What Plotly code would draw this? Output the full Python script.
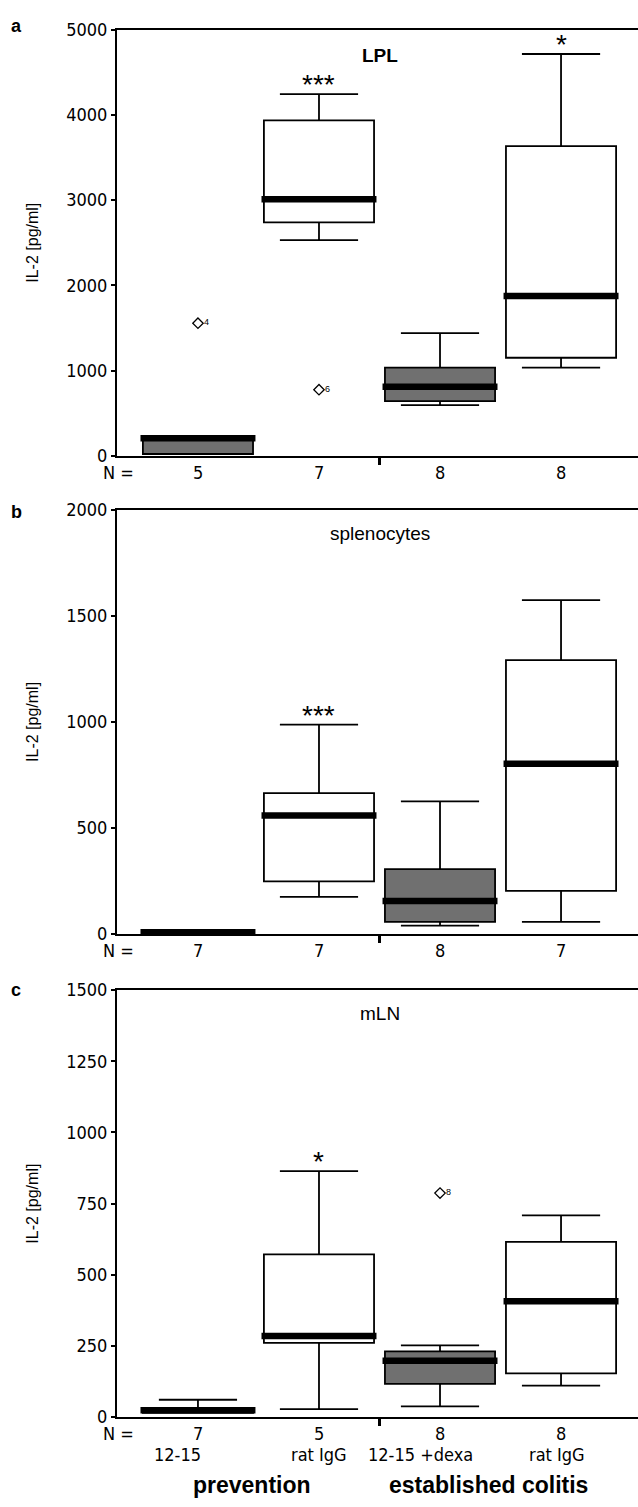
import plotly.graph_objects as go

W, H = 638, 1507

# ---------------- data ----------------
groups = ["12-15", "rat IgG", "12-15 +dexa", "rat IgG"]
fills = ["#707070", "#ffffff", "#707070", "#ffffff"]

# panel a: LPL
n_a = [5, 7, 8, 8]
lo_a = [20, 2530, 595, 1035]
q1_a = [20, 2740, 640, 1150]
med_a = [205, 3010, 810, 1875]
q3_a = [212, 3935, 1035, 3635]
hi_a = [212, 4245, 1440, 4715]
out_a_x = [0, 1]
out_a_y = [1555, 775]
out_a_lbl = ["4", "6"]
sig_a = ["", "***", "", "*"]

# panel b: splenocytes
n_b = [7, 7, 8, 7]
lo_b = [0, 175, 39, 57]
q1_b = [0, 248, 57, 203]
med_b = [8, 559, 155, 803]
q3_b = [15, 664, 306, 1292]
hi_b = [15, 987, 625, 1575]
out_b_x = []
out_b_y = []
out_b_lbl = []
sig_b = ["", "***", "", ""]

# panel c: mLN
n_c = [7, 5, 8, 8]
lo_c = [15, 28, 38, 111]
q1_c = [15, 261, 117, 154]
med_c = [24, 285, 198, 407]
q3_c = [32, 572, 231, 616]
hi_c = [61, 864, 252, 709]
out_c_x = [2]
out_c_y = [787]
out_c_lbl = ["8"]
sig_c = ["", "*", "", ""]

titles = ["LPL", "splenocytes", "mLN"]
letters = ["a", "b", "c"]
yticks = [[0, 1000, 2000, 3000, 4000, 5000],
          [0, 500, 1000, 1500, 2000],
          [0, 250, 500, 750, 1000, 1250, 1500]]
group_names = ["prevention", "established colitis"]

# ---------------- layout geometry (pixels) ----------------
FONT = "Liberation Sans Narrow, DejaVu Sans Condensed, Liberation Sans, Arial"
BOLD = "Liberation Sans, Arial"
px = lambda x: x / W
py = lambda y: 1 - y / H

panels = [
    dict(top=19, bot=451, n=n_a, lo=lo_a, q1=q1_a, med=med_a, q3=q3_a, hi=hi_a,
         ox=out_a_x, oy=out_a_y, ol=out_a_lbl, sig=sig_a, title_y=45, title_bold=True),
    dict(top=506, bot=936, n=n_b, lo=lo_b, q1=q1_b, med=med_b, q3=q3_b, hi=hi_b,
         ox=out_b_x, oy=out_b_y, ol=out_b_lbl, sig=sig_b, title_y=530, title_bold=False),
    dict(top=993, bot=1426, n=n_c, lo=lo_c, q1=q1_c, med=med_c, q3=q3_c, hi=hi_c,
         ox=out_c_x, oy=out_c_y, ol=out_c_lbl, sig=sig_c, title_y=1017, title_bold=False),
]
letter_y = [15, 508, 993]
sub_shift = [-20, 0, -20, -4]

BOXW = 0.91
XR = [-0.669, 3.636]

fig = go.Figure()
annotations = []
layout = dict(width=W, height=H, margin=dict(l=0, r=0, t=0, b=0, pad=0),
              plot_bgcolor="white", paper_bgcolor="white",
              showlegend=False, boxmode="overlay", autosize=False)

for p_i, p in enumerate(panels):
    sfx = "" if p_i == 0 else str(p_i + 1)
    xa, ya = "x" + sfx, "y" + sfx
    for i in range(4):
        fig.add_trace(go.Box(
            x=[i], q1=[p["q1"][i]], median=[p["med"][i]], q3=[p["q3"][i]],
            lowerfence=[p["lo"][i]], upperfence=[p["hi"][i]],
            width=BOXW, whiskerwidth=0.71, fillcolor=fills[i],
            line=dict(color="black", width=1.8), boxpoints=False,
            hoverinfo="skip", xaxis=xa, yaxis=ya))
        # thick median bar
        fig.add_trace(go.Scatter(
            x=[i - BOXW / 2 - 0.02, i + BOXW / 2 + 0.02],
            y=[p["med"][i], p["med"][i]], mode="lines",
            line=dict(color="black", width=6.5), hoverinfo="skip",
            xaxis=xa, yaxis=ya, cliponaxis=False))
        if p["sig"][i]:
            annotations.append(dict(x=i, y=p["hi"][i], xref=xa, yref=ya,
                                    text=p["sig"][i], showarrow=False,
                                    xanchor="center", yanchor="bottom", yshift=-8,
                                    font=dict(family=BOLD, size=28, color="black")))
        # N labels
        annotations.append(dict(x=i, y=0, xref=xa, yref=ya, text=str(p["n"][i]),
                                showarrow=False, xanchor="center", yanchor="top",
                                yshift=-4,
                                font=dict(family=FONT, size=18, color="black")))
    if p["ox"]:
        fig.add_trace(go.Scatter(
            x=p["ox"], y=p["oy"], mode="markers+text", text=p["ol"],
            textposition="middle right",
            textfont=dict(family=BOLD, size=9, color="black"),
            marker=dict(symbol="diamond-open", size=8, color="black",
                        line=dict(width=1.3)),
            hoverinfo="skip", xaxis=xa, yaxis=ya))
    # N = label
    annotations.append(dict(x=px(118), y=0, xref="paper", yref=ya,
                            text="N =", showarrow=False, xanchor="center",
                            yanchor="top", yshift=-4,
                            font=dict(family=FONT, size=18, color="black")))
    # title
    t = "<b>" + titles[p_i] + "</b>" if p["title_bold"] else titles[p_i]
    annotations.append(dict(x=px(380), y=py(p["title_y"]), xref="paper", yref="paper",
                            text=t, showarrow=False, xanchor="center", yanchor="middle",
                            font=dict(family=BOLD, size=19, color="black")))
    # panel letter
    annotations.append(dict(x=px(16), y=py(letter_y[p_i]), xref="paper", yref="paper",
                            text="<b>" + letters[p_i] + "</b>", showarrow=False,
                            xanchor="center", yanchor="middle",
                            font=dict(family=BOLD, size=18, color="black")))
    # y-axis title
    annotations.append(dict(x=px(33), y=py((p["top"] + p["bot"]) / 2), xref="paper",
                            yref="paper", text="IL-2 [pg/ml]", textangle=-90,
                            showarrow=False, xanchor="center", yanchor="middle",
                            font=dict(family=BOLD, size=16, color="black")))
    ymax = yticks[p_i][-1]
    layout["xaxis" + sfx] = dict(domain=[px(117), 1], range=XR, showgrid=False,
                                 zeroline=False, showline=True, linecolor="black",
                                 linewidth=2, mirror=True,
                                 tickvals=[1.5], ticktext=[""], ticks="outside",
                                 ticklen=7, tickwidth=3, tickcolor="black",
                                 anchor=ya, fixedrange=True)
    layout["yaxis" + sfx] = dict(domain=[py(p["bot"]), py(p["top"])], range=[0, ymax],
                                 showgrid=False, zeroline=False, showline=True,
                                 linecolor="black", linewidth=2,
                                 tickvals=yticks[p_i], ticks="outside", ticklen=4,
                                 tickwidth=2, tickcolor="black",
                                 tickfont=dict(family=FONT, size=18, color="black"),
                                 anchor=xa, fixedrange=True)

# bottom group labels (panel c)
for i, g in enumerate(groups):
    annotations.append(dict(x=i, y=0, xref="x3", yref="y3", text=g, showarrow=False,
                            xanchor="center", yanchor="top", yshift=-25,
                            xshift=sub_shift[i],
                            font=dict(family=FONT, size=18, color="black")))
for g, cx in zip(group_names, [252, 488]):
    annotations.append(dict(x=px(cx), y=py(1495), xref="paper", yref="paper",
                            text="<b>" + g + "</b>", showarrow=False,
                            xanchor="center", yanchor="middle",
                            font=dict(family=BOLD, size=23, color="black")))

layout["annotations"] = annotations
fig.update_layout(**layout)
fig.write_html("out.html", config={"displayModeBar": False, "staticPlot": True,
                                   "responsive": False},
               post_script="document.documentElement.style.margin='0';"
                           "document.body.style.margin='0';document.body.style.padding='0';"
                           "document.body.style.overflow='hidden';"
                           "document.documentElement.style.overflow='hidden';")
